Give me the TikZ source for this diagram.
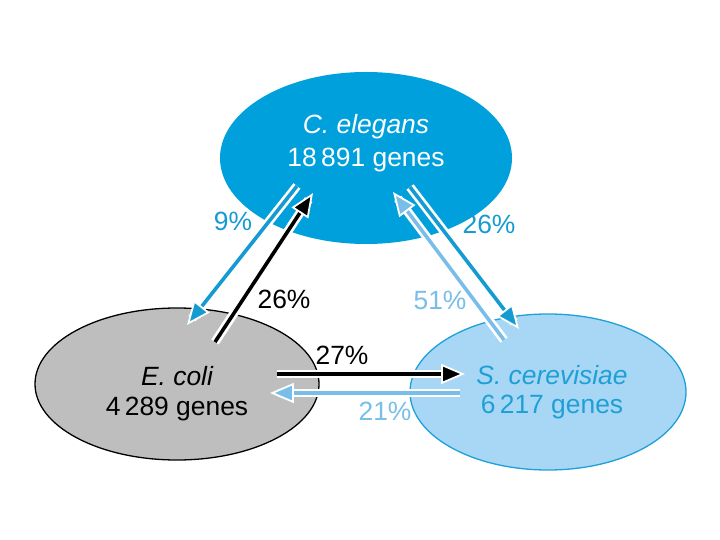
\documentclass[tikz,border=0pt]{standalone}
\usepackage{fontspec}
\setmainfont{Liberation Sans}
\usetikzlibrary{shapes.geometric,arrows.meta}
\definecolor{celfill}{RGB}{0,160,220}
\definecolor{arrblue}{RGB}{20,155,210}
\definecolor{arrlight}{RGB}{120,190,232}
\definecolor{scfill}{RGB}{168,214,245}
\definecolor{scedge}{RGB}{30,160,215}
\definecolor{ecfill}{RGB}{190,190,190}
\tikzset{
  blob/.style={ellipse, inner sep=0pt},
  txt/.style={font=\fontsize{26.5}{30}\selectfont, inner sep=0pt},
  flow/.style={line width=3.6pt, preaction={draw=white, line width=9pt, -, shorten >=8pt},
    -{Triangle[length=24pt,width=20pt,fill=#1,color=white,line width=1.8pt]}, draw=#1},
}
\begin{document}
\begin{tikzpicture}[x=1bp,y=-1bp]
\useasboundingbox (0,0) rectangle (720,540);
% ellipses
\node[blob, fill=celfill, minimum width=292bp, minimum height=172bp] (cel) at (366,158) {};
\node[blob, fill=ecfill, draw=black, line width=1.3pt, minimum width=284bp, minimum height=152bp] (eco) at (177,384) {};
\node[blob, fill=scfill, draw=scedge, line width=1.3pt, minimum width=276bp, minimum height=156bp] (sce) at (548,392) {};
% arrow end points
\coordinate (a1s) at (297,186); \coordinate (a1e) at (187,325);
\coordinate (a2s) at (215,342); \coordinate (a2e) at (313,193);
\coordinate (a3s) at (410,187); \coordinate (a3e) at (519,329);
\coordinate (a4s) at (504,340); \coordinate (a4e) at (393,192);
\coordinate (a5s) at (277,374); \coordinate (a5e) at (465,374);
\coordinate (a6s) at (460,393); \coordinate (a6e) at (270,393);
% arrows
\draw[flow=arrblue] (a1s) -- (a1e);
\draw[flow=black] (a2s) -- (a2e);
\draw[flow=arrblue] (a3s) -- (a3e);
\draw[flow=arrlight] (a4s) -- (a4e);
\draw[flow=black] (a5s) -- (a5e);
\draw[flow=arrlight] (a6s) -- (a6e);
% texts
\node[txt, text=white] (celname) at (366,127) {\itshape C. elegans};
\node[txt, text=white] (celgenes) at (366,160) {18\,891 genes};
\node[txt] (econame) at (177,376) {\itshape E. coli};
\node[txt] (ecogenes) at (177,409) {4\,289 genes};
\node[txt, text=scedge] (scename) at (552,375) {\itshape S. cerevisiae};
\node[txt, text=scedge] (scegenes) at (552,407) {6\,217 genes};
% percentages
\node[txt, text=arrblue] (p9) at (233,221) {9\%};
\node[txt] (p26a) at (284,299) {26\%};
\node[txt, text=arrblue] (p26b) at (489,224) {26\%};
\node[txt, text=arrlight] (p51) at (440,300) {51\%};
\node[txt] (p27) at (342,355) {27\%};
\node[txt, text=arrlight] (p21) at (385,411) {21\%};
\end{tikzpicture}
\end{document}
